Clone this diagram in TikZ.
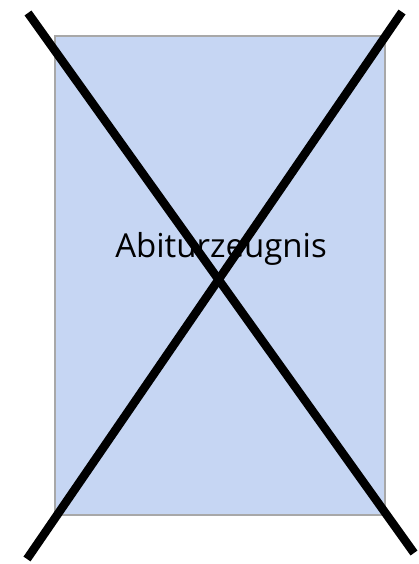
\documentclass[tikz,border=0pt]{standalone}
\usepackage{fontspec}
\setmainfont{Open Sans}
\usepackage{xcolor}
\usetikzlibrary{positioning}

\definecolor{sheetblue}{HTML}{C6D6F3}
\definecolor{sheetgray}{HTML}{A8A8A8}

\begin{document}
\begin{tikzpicture}[
  x=1pt, y=1pt,
  sheet/.style={draw=sheetgray, line width=1.5pt, fill=sheetblue, minimum width=330pt, minimum height=479pt, inner sep=0pt},
  sheettext/.style={font=\fontsize{33}{40}\selectfont, inner sep=0pt},
  cross/.style={line width=8.5pt, line cap=butt}
]
\useasboundingbox (0,0) rectangle (418,564);
\node[sheet] (zeugnis) at (220,288.5) {};
\node[sheettext] (label) at (221,315) {Abiturzeugnis};
\coordinate (tl) at (28,551);
\coordinate (br) at (414,11);
\coordinate (tr) at (402,552);
\coordinate (bl) at (27,5);
\draw[cross] (tl) -- (br);
\draw[cross] (tr) -- (bl);
\end{tikzpicture}
\end{document}
